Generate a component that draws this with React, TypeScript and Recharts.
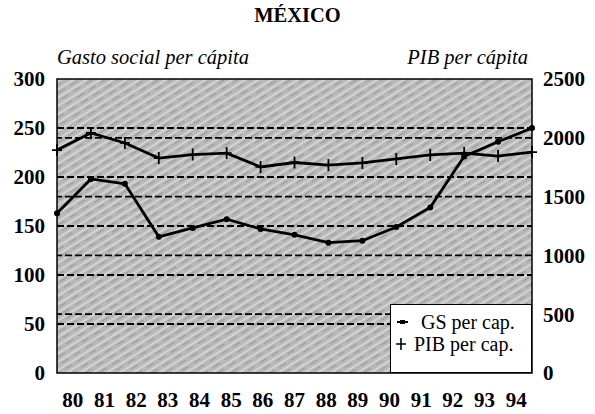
import React from 'react';
import { LineChart, Line, XAxis, YAxis, ReferenceLine, ReferenceArea } from 'recharts';

const years = ['80', '81', '82', '83', '84', '85', '86', '87', '88', '89', '90', '91', '92', '93', '94'];
// Gasto social per cápita (left axis)
const gastoSocial = [163, 198, 193, 139, 148, 157, 147, 141, 133, 135, 149, 169, 221, 236, 250];
// PIB per cápita (right axis)
const pibPerCapita = [1896, 2041, 1956, 1828, 1857, 1870, 1752, 1790, 1768, 1786, 1820, 1854, 1870, 1845, 1879];

const leftTicks = [0, 50, 100, 150, 200, 250, 300];
const rightTicks = [0, 500, 1000, 1500, 2000, 2500];
const leftGrid = [50, 100, 150, 200, 250];
const rightGrid = [500, 1000, 1500, 2000];

const SERIF = '"Liberation Serif", "Times New Roman", serif';

const data = years.map((year, i) => ({ year, gs: gastoSocial[i], pib: pibPerCapita[i] }));

const PlusDot = (props: any) => {
  const { cx, cy } = props;
  if (cx == null || cy == null) return null;
  return (
    <path
      d={`M${cx - 5},${cy} L${cx + 5},${cy} M${cx},${cy - 6} L${cx},${cy + 6}`}
      stroke="#000"
      strokeWidth={1.8}
      fill="none"
    />
  );
};

const tickStyle = { fill: '#000', fontFamily: SERIF, fontWeight: 700, fontSize: 21 };

export default function App() {
  return (
    <div style={{ position: 'absolute', left: 0, top: 0, width: 595, height: 414, background: '#fff', fontFamily: SERIF }}>
      <div style={{ position: 'absolute', left: 0, width: 595, top: 4, textAlign: 'center', fontWeight: 700, fontSize: 20.5 }}>
        MÉXICO
      </div>
      <div style={{ position: 'absolute', left: 57, top: 46, fontStyle: 'italic', fontSize: 20.5 }}>
        Gasto social per cápita
      </div>
      <div style={{ position: 'absolute', right: 67, top: 46, fontStyle: 'italic', fontSize: 20.5 }}>
        PIB per cápita
      </div>

      <LineChart width={595} height={414} data={data} margin={{ top: 79, right: 0, bottom: 0, left: 0 }}>
        <defs>
          <pattern id="hatch" width="14" height="7" patternUnits="userSpaceOnUse" patternTransform="rotate(-32)">
            <rect width="14" height="7" fill="#b8b8b8" />
            <line x1="0" y1="1.5" x2="14" y2="1.5" stroke="#dcdcdc" strokeWidth="1.6" />
            <line x1="0" y1="4.5" x2="8" y2="4.5" stroke="#999999" strokeWidth="1" />
          </pattern>
        </defs>
        <XAxis xAxisId="pts" dataKey="year" hide />
        <XAxis
          xAxisId="lbl"
          dataKey="year"
          scale="band"
          height={41}
          axisLine={false}
          tickLine={false}
          tickMargin={13}
          tick={tickStyle}
          interval={0}
        />
        <YAxis
          yAxisId="left"
          width={57}
          domain={[0, 300]}
          ticks={leftTicks}
          axisLine={false}
          tickLine={false}
          tickMargin={6}
          tick={tickStyle}
        />
        <YAxis
          yAxisId="right"
          orientation="right"
          width={63}
          domain={[0, 2500]}
          ticks={rightTicks}
          axisLine={false}
          tickLine={false}
          tickMargin={5}
          tick={tickStyle}
        />
        <ReferenceArea
          xAxisId="pts"
          yAxisId="left"
          y1={0}
          y2={300}
          fill="url(#hatch)"
          fillOpacity={1}
          stroke="#000"
          strokeWidth={1.5}
        />
        {leftGrid.map((v) => (
          <ReferenceLine key={`l${v}`} xAxisId="pts" yAxisId="left" y={v} stroke="#000" strokeWidth={1.8} strokeDasharray="7 3" />
        ))}
        {rightGrid.map((v) => (
          <ReferenceLine key={`r${v}`} xAxisId="pts" yAxisId="right" y={v} stroke="#000" strokeWidth={1.8} strokeDasharray="7 3" />
        ))}
        <Line
          xAxisId="pts"
          yAxisId="left"
          type="linear"
          dataKey="gs"
          name="GS per cap."
          stroke="#000"
          strokeWidth={2.8}
          dot={{ r: 1.6, fill: '#000', stroke: '#000' }}
          isAnimationActive={false}
        />
        <Line
          xAxisId="pts"
          yAxisId="right"
          type="linear"
          dataKey="pib"
          name="PIB per cap."
          stroke="#000"
          strokeWidth={2.8}
          dot={<PlusDot />}
          isAnimationActive={false}
        />
      </LineChart>

      <div
        style={{
          position: 'absolute',
          left: 390,
          top: 304,
          width: 142,
          height: 69,
          boxSizing: 'border-box',
          background: '#fff',
          border: '1.5px solid #000',
          fontSize: 20,
          paddingLeft: 2,
          paddingTop: 6,
          lineHeight: '22px',
        }}
      >
        <div style={{ display: 'flex', alignItems: 'center' }}>
          <svg width={24} height={12}>
            <line x1={4} y1={6} x2={15} y2={6} stroke="#000" strokeWidth={2} />
            <rect x={7} y={4} width={5} height={4} fill="#000" />
          </svg>
          <span style={{ marginLeft: 4 }}>GS per cap.</span>
        </div>
        <div style={{ display: 'flex', alignItems: 'center' }}>
          <svg width={18} height={14}>
            <path d="M3,7 L13,7 M8,1 L8,13" stroke="#000" strokeWidth={1.6} />
          </svg>
          <span style={{ marginLeft: 3 }}>PIB per cap.</span>
        </div>
      </div>
    </div>
  );
}
